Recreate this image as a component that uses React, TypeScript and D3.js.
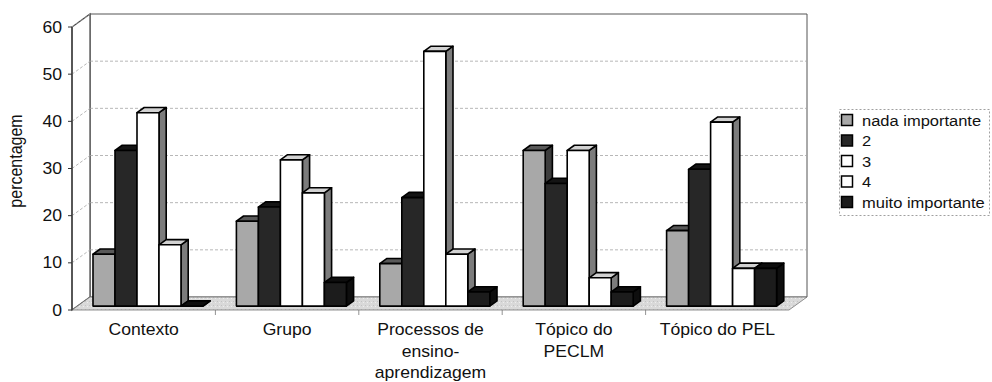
import React from "react";
import * as d3 from "d3";

const categories = ["Contexto", "Grupo", "Processos de\nensino-\naprendizagem", "Tópico do\nPECLM", "Tópico do PEL"];
const seriesNames = ["nada importante", "2", "3", "4", "muito importante"];
const nadaImportante = [11, 18, 9, 33, 16];
const serie2 = [33, 21, 23, 26, 29];
const serie3 = [41, 31, 54, 33, 39];
const serie4 = [13, 24, 11, 6, 8];
const muitoImportante = [0, 5, 3, 3, 8];
const yTicks = [0, 10, 20, 30, 40, 50, 60];
const yLabel = "percentagem";

const seriesValues = [nadaImportante, serie2, serie3, serie4, muitoImportante];

const faceColors = [
  { front: "#a8a8a8", top: "#595959", side: "#3c3c3c", legend: "#a8a8a8" },
  { front: "#272727", top: "#141414", side: "#141414", legend: "#272727" },
  { front: "#ffffff", top: "#d2d2d2", side: "#7c7c7c", legend: "#ffffff" },
  { front: "#ffffff", top: "#d2d2d2", side: "#7c7c7c", legend: "#ffffff" },
  { front: "#1c1c1c", top: "#0e0e0e", side: "#0e0e0e", legend: "#1c1c1c" },
];

const FONT = "'Liberation Sans', Arial, sans-serif";
const SX = 1.1;

// geometry
const X0 = 72;
const X1 = 789;
const Y0 = 310;
const DX = 18;
const DY = -13;
const DF = 0.3;
const DB = 0.7;

const x = d3.scaleBand<string>().domain(categories).range([X0, X1]).paddingInner(0).paddingOuter(0);
const xs = d3.scaleBand<string>().domain(seriesNames).range([15.6, 125.6]).paddingInner(0);
const yH = d3.scaleLinear().domain([0, 60]).range([0, 283]);

function P(px: number, depth: number, v: number): [number, number] {
  return [px + DX * depth, Y0 + DY * depth - yH(v)];
}
function poly(pts: [number, number][]) {
  return pts.map((p) => p.join(",")).join(" ");
}

function T({ x, y, anchor = "start", size = 16, children, rotate = 0 }: any) {
  const tr = rotate
    ? `translate(${x},${y}) rotate(${rotate}) scale(1,${SX})`
    : `translate(${x},${y}) scale(${SX},1)`;
  return (
    <text transform={tr} textAnchor={anchor} fontFamily={FONT} fontSize={size} fill="#111">
      {children}
    </text>
  );
}

export default function App() {
  const bars: React.ReactNode[] = [];
  categories.forEach((c, ci) => {
    seriesNames.forEach((s, si) => {
      const v = seriesValues[si][ci];
      const xl = (x(c) as number) + (xs(s) as number);
      const xr = xl + xs.bandwidth();
      const col = faceColors[si];
      const front: [number, number][] = [P(xl, DF, 0), P(xr, DF, 0), P(xr, DF, v), P(xl, DF, v)];
      const top: [number, number][] = [P(xl, DF, v), P(xr, DF, v), P(xr, DB, v), P(xl, DB, v)];
      const side: [number, number][] = [P(xr, DF, 0), P(xr, DB, 0), P(xr, DB, v), P(xr, DF, v)];
      bars.push(
        <g key={`${ci}-${si}`} stroke="#000" strokeWidth={1.6} strokeLinejoin="round">
          <polygon points={poly(side)} fill={col.side} />
          <polygon points={poly(top)} fill={col.top} />
          {v > 0 && <polygon points={poly(front)} fill={col.front} />}
        </g>
      );
    });
  });

  const backRight = X1 + DX;

  return (
    <svg width={992} height={382} style={{ position: "absolute", left: 0, top: 0, background: "#fff" }}>
      <defs>
        <pattern id="floorPat" width="4" height="4" patternUnits="userSpaceOnUse">
          <rect width="4" height="4" fill="#d9d9d9" />
          <rect x="1" y="1" width="1" height="1" fill="#c2c2c2" />
          <rect x="3" y="2" width="1" height="1" fill="#eeeeee" />
        </pattern>
      </defs>
      {/* walls */}
      <polygon
        points={poly([P(X0, 1, 0), P(X1, 1, 0), P(X1, 1, 60), P(X0, 1, 60)])}
        fill="#fff"
        stroke="#555"
        strokeWidth={1}
      />
      <polygon
        points={poly([P(X0, 0, 0), P(X0, 1, 0), P(X0, 1, 60), P(X0, 0, 60)])}
        fill="#fff"
        stroke="#444"
        strokeWidth={1.2}
      />
      {/* gridlines */}
      {yTicks.slice(1).map((t) => {
        const [bx, by] = P(X0, 1, t);
        const [fx, fy] = P(X0, 0, t);
        return (
          <g key={t} stroke="#a5a5a5" strokeWidth={0.8} strokeDasharray="3,2" fill="none">
            <line x1={fx} y1={fy} x2={bx} y2={by} />
            {t < 60 && <line x1={bx} y1={by} x2={backRight} y2={by} />}
          </g>
        );
      })}
      {/* floor */}
      <polygon
        points={poly([P(X0, 0, 0), P(X0, 1, 0), P(X1, 1, 0), P(X1, 0, 0)])}
        fill="url(#floorPat)"
        stroke="#777"
        strokeWidth={0.8}
      />
      {/* y axis */}
      <line x1={X0} y1={Y0} x2={X0} y2={Y0 - yH(60)} stroke="#333" strokeWidth={1.2} />
      {yTicks.map((t) => (
        <g key={t}>
          <line x1={X0 - 4} x2={X0} y1={Y0 - yH(t)} y2={Y0 - yH(t)} stroke="#333" strokeWidth={1} />
          <T x={62} y={Y0 - yH(t) + 5.5} anchor="end" size={16}>
            {t}
          </T>
        </g>
      ))}
      {/* category ticks */}
      {categories.slice(1).map((c) => (
        <line key={c} x1={x(c)} x2={x(c)} y1={Y0} y2={Y0 + 5} stroke="#777" strokeWidth={0.8} />
      ))}
      {bars}
      {/* category labels */}
      {categories.map((c) => {
        const cx = (x(c) as number) + x.bandwidth() / 2;
        return c.split("\n").map((line, li) => (
          <T key={c + li} x={cx} y={335 + li * 21.5} anchor="middle" size={16}>
            {line}
          </T>
        ));
      })}
      {/* y label */}
      <T x={22} y={161} anchor="middle" size={16} rotate={-90}>
        {yLabel}
      </T>
      {/* legend */}
      <rect x={839.5} y={109.5} width={150} height={106} fill="#fff" stroke="#888" strokeWidth={0.8} strokeDasharray="2,2" />
      {seriesNames.map((s, i) => {
        const cy = 120 + 20.5 * i;
        return (
          <g key={s}>
            <rect x={841.5} y={cy - 5.5} width={11} height={11} fill={faceColors[i].legend} stroke="#000" strokeWidth={1.5} />
            <T x={862} y={cy + 5.5} size={15}>
              {s}
            </T>
          </g>
        );
      })}
    </svg>
  );
}
